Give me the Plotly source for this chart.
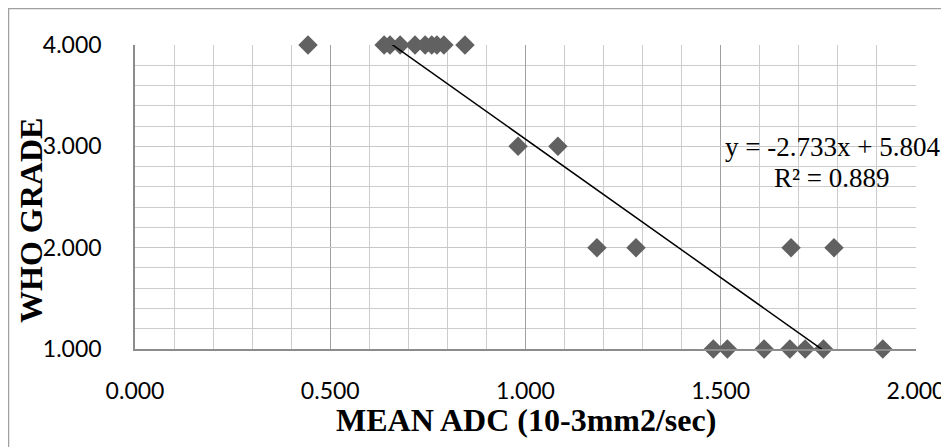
import plotly.graph_objects as go

# Data
grade4_adc = [0.443, 0.638, 0.653, 0.679, 0.717, 0.743, 0.760, 0.773, 0.791, 0.845]
grade3_adc = [0.981, 1.083]
grade2_adc = [1.183, 1.283, 1.680, 1.790]
grade1_adc = [1.481, 1.517, 1.611, 1.677, 1.716, 1.763, 1.915]

adc = grade4_adc + grade3_adc + grade2_adc + grade1_adc
who = [4] * len(grade4_adc) + [3] * len(grade3_adc) + [2] * len(grade2_adc) + [1] * len(grade1_adc)

slope = -2.733
intercept = 5.804
r2 = 0.889

x_ticks = [0.0, 0.5, 1.0, 1.5, 2.0]
y_ticks = [1, 2, 3, 4]

# the page body adds an 8px margin; size the figure so it fills the window
OFF = 8
W, H = 949 - OFF, 447 - OFF
# plot area in screen pixels: x 135..916, y 45..349
PX0, PX1, PY0, PY1 = 135, 916, 45, 349
L, R, T, B = PX0 - OFF, 949 - PX1, PY0 - OFF, 447 - PY1
pw, ph = PX1 - PX0, PY1 - PY0


def px_x(p):
    return (p - PX0) / pw


def px_y(p):
    return (PY1 - p) / ph


fig = go.Figure()
fig.add_trace(go.Scatter(
    x=adc, y=who, mode="markers",
    marker=dict(symbol="diamond", size=15, color="#616161", line=dict(width=0)),
    cliponaxis=False, showlegend=False, hoverinfo="x+y",
))
tx = [min(adc), max(adc)]
fig.add_trace(go.Scatter(
    x=tx, y=[slope * v + intercept for v in tx], mode="lines",
    line=dict(color="black", width=1.5), showlegend=False, hoverinfo="skip",
))

tick_font = dict(family="Lato, Open Sans, sans-serif", size=23, color="#000000")
title_font = dict(family="Liberation Serif, Times New Roman, serif", size=32, color="#000000")
eq_font = dict(family="Liberation Serif, Times New Roman, serif", size=27, color="#000000")

fig.update_layout(
    width=W, height=H,
    margin=dict(l=L, r=R, t=T, b=B, autoexpand=False),
    paper_bgcolor="white", plot_bgcolor="white",
    xaxis=dict(
        range=[0, 2], tickvals=x_ticks, tickformat=".3f", automargin=False,
        showgrid=True, gridcolor="#a0a0a0", gridwidth=1.3,
        minor=dict(dtick=0.1, showgrid=True, gridcolor="#cccccc", gridwidth=1),
        showline=True, linecolor="#8c8c8c", linewidth=1.5,
        zeroline=False, ticks="", tickfont=tick_font, ticklabelstandoff=21,
    ),
    yaxis=dict(
        range=[1, 4], tickvals=y_ticks, tickformat=".3f", automargin=False,
        showgrid=True, gridcolor="#c8c8c8", gridwidth=1,
        minor=dict(dtick=0.2, showgrid=True, gridcolor="#cccccc", gridwidth=1),
        showline=True, linecolor="#8c8c8c", linewidth=1.5,
        zeroline=False, ticks="", tickfont=tick_font, ticklabelstandoff=27,
    ),
    annotations=[
        dict(text="<b>MEAN ADC (10-3mm2/sec)</b>", xref="paper", yref="paper",
             x=px_x(526), y=px_y(420), showarrow=False, font=title_font,
             xanchor="center", yanchor="middle"),
        dict(text="<b>WHO GRADE</b>", xref="paper", yref="paper",
             x=px_x(31), y=px_y(221), showarrow=False, font=title_font,
             textangle=-90, xanchor="center", yanchor="middle"),
        dict(text="y = -2.733x + 5.804", xref="paper", yref="paper",
             x=px_x(832), y=px_y(147), showarrow=False, font=eq_font,
             xanchor="center", yanchor="middle"),
        dict(text="R² = %.3f" % r2, xref="paper", yref="paper",
             x=px_x(832), y=px_y(178), showarrow=False, font=eq_font,
             xanchor="center", yanchor="middle"),
    ],
    shapes=[
        dict(type="rect", xref="paper", yref="paper",
             x0=px_x(8.5), x1=px_x(946), y0=px_y(460), y1=px_y(8.5),
             line=dict(color="#a0a0a0", width=1.5), layer="below"),
    ],
)

fig.write_html("out.html")
